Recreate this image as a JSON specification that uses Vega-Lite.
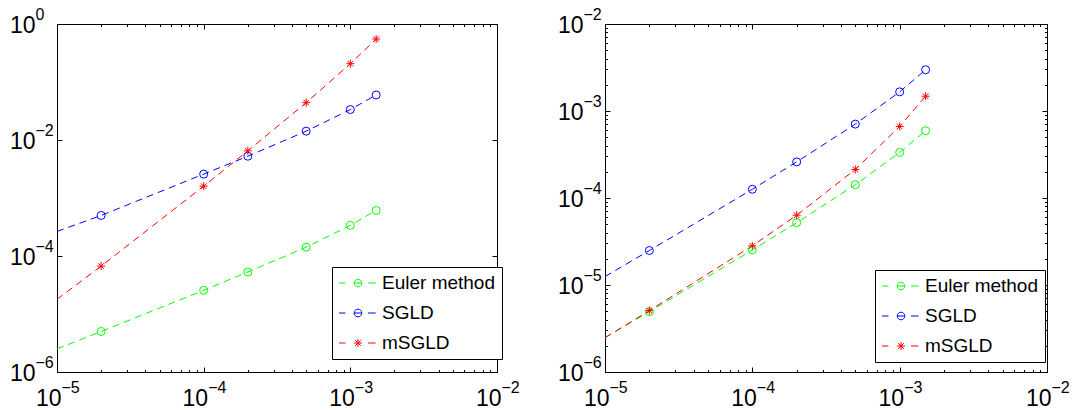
{
  "$schema": "https://vega.github.io/schema/vega-lite/v6.json",
  "background": "white",
  "padding": {"left": 8, "top": 5, "right": 5, "bottom": 0},
  "bounds": "flush",
  "spacing": 108,
  "resolve": {"scale": {"color": "independent"}, "legend": {"color": "independent"}},
  "datasets": {
    "left": [
      {"method": "Euler method", "h": 1e-5, "err": 2.5e-6},
      {"method": "Euler method", "h": 2e-5, "err": 5.0e-6},
      {"method": "Euler method", "h": 1e-4, "err": 2.56e-5},
      {"method": "Euler method", "h": 2e-4, "err": 5.3e-5},
      {"method": "Euler method", "h": 5e-4, "err": 1.42e-4},
      {"method": "Euler method", "h": 1e-3, "err": 3.37e-4},
      {"method": "Euler method", "h": 1.5e-3, "err": 6.1e-4},
      {"method": "SGLD", "h": 1e-5, "err": 2.65e-4},
      {"method": "SGLD", "h": 2e-5, "err": 5.0e-4},
      {"method": "SGLD", "h": 1e-4, "err": 2.58e-3},
      {"method": "SGLD", "h": 2e-4, "err": 5.25e-3},
      {"method": "SGLD", "h": 5e-4, "err": 1.42e-2},
      {"method": "SGLD", "h": 1e-3, "err": 3.35e-2},
      {"method": "SGLD", "h": 1.5e-3, "err": 5.98e-2},
      {"method": "mSGLD", "h": 1e-5, "err": 1.79e-5},
      {"method": "mSGLD", "h": 2e-5, "err": 6.7e-5},
      {"method": "mSGLD", "h": 1e-4, "err": 1.6e-3},
      {"method": "mSGLD", "h": 2e-4, "err": 6.5e-3},
      {"method": "mSGLD", "h": 5e-4, "err": 4.4e-2},
      {"method": "mSGLD", "h": 1e-3, "err": 0.207},
      {"method": "mSGLD", "h": 1.5e-3, "err": 0.55}
    ],
    "right": [
      {"method": "Euler method", "h": 1e-5, "err": 2.48e-6},
      {"method": "Euler method", "h": 2e-5, "err": 4.94e-6},
      {"method": "Euler method", "h": 1e-4, "err": 2.53e-5},
      {"method": "Euler method", "h": 2e-4, "err": 5.2e-5},
      {"method": "Euler method", "h": 5e-4, "err": 1.42e-4},
      {"method": "Euler method", "h": 1e-3, "err": 3.34e-4},
      {"method": "Euler method", "h": 1.5e-3, "err": 5.93e-4},
      {"method": "SGLD", "h": 1e-5, "err": 1.25e-5},
      {"method": "SGLD", "h": 2e-5, "err": 2.49e-5},
      {"method": "SGLD", "h": 1e-4, "err": 1.26e-4},
      {"method": "SGLD", "h": 2e-4, "err": 2.6e-4},
      {"method": "SGLD", "h": 5e-4, "err": 7.07e-4},
      {"method": "SGLD", "h": 1e-3, "err": 1.66e-3},
      {"method": "SGLD", "h": 1.5e-3, "err": 2.98e-3},
      {"method": "mSGLD", "h": 1e-5, "err": 2.48e-6},
      {"method": "mSGLD", "h": 2e-5, "err": 5.08e-6},
      {"method": "mSGLD", "h": 1e-4, "err": 2.82e-5},
      {"method": "mSGLD", "h": 2e-4, "err": 6.34e-5},
      {"method": "mSGLD", "h": 5e-4, "err": 2.13e-4},
      {"method": "mSGLD", "h": 1e-3, "err": 6.65e-4},
      {"method": "mSGLD", "h": 1.5e-3, "err": 1.48e-3}
    ]
  },
  "hconcat": [
    {
      "width": 440,
      "height": 348,
      "data": {"name": "left"},
      "resolve": {"axis": {"x": "independent", "y": "independent"}},
      "layer": [
        {
          "mark": {"type": "line", "strokeWidth": 1, "strokeDash": [7, 5]},
          "encoding": {
            "x": {"field": "h", "type": "quantitative",
              "scale": {"type": "log", "domain": [1e-5, 1e-2], "nice": false},
              "axis": {"orient": "bottom", "title": null, "values": [1e-5,2e-5,3e-5,4e-5,5e-5,6e-5,7e-5,8e-5,9e-5,1e-4,2e-4,3e-4,4e-4,5e-4,6e-4,7e-4,8e-4,9e-4,1e-3,2e-3,3e-3,4e-3,5e-3,6e-3,7e-3,8e-3,9e-3,1e-2],
                "labelExpr": "abs(log(datum.value)/LN10 - round(log(datum.value)/LN10)) < 0.001 ? '10' : ''",
                "tickSize": {"condition": {"test": "abs(log(datum.value)/LN10 - round(log(datum.value)/LN10)) < 0.001", "value": -5}, "value": -2.5},
                "labelAlign": "right", "labelBaseline": "alphabetic", "labelOffset": 4, "labelPadding": 38, "labelFontSize": 23}},
            "y": {"field": "err", "type": "quantitative",
              "scale": {"type": "log", "domain": [1e-6, 1], "nice": false},
              "axis": {"orient": "left", "title": null, "values": [1e-6, 1e-4, 1e-2, 1],
                "labelExpr": "'10'", "tickSize": -5,
                "labelAlign": "right", "labelBaseline": "alphabetic", "labelOffset": 8, "labelPadding": 27, "labelFontSize": 23}},
            "color": {"field": "method", "type": "nominal",
              "scale": {"domain": ["Euler method", "SGLD", "mSGLD"], "range": ["#00ff00", "#0000ff", "#ff0000"]},
              "legend": {"orient": "none", "legendX": 275, "legendY": 243,
                "encode": {"symbols": {"update": {
                  "shape": {"signal": "datum.value === 'mSGLD' ? 'M-2,0L-1.32,0M1.05,0L1.85,0M-0.42,0L0.42,0M0,-0.42L0,0.42M-0.3,-0.3L0.3,0.3M-0.3,0.3L0.3,-0.3' : 'M-2,0L-1.32,0M1.05,0L1.85,0M0.4,0A0.4,0.4 0 1,1 -0.4,0A0.4,0.4 0 1,1 0.4,0M-0.4,0L0.4,0'"},
                  "strokeDash": {"value": []},
                  "fill": {"value": "transparent"}}}}}}
          }
        },
        {
          "transform": [{"filter": "datum.h > 1.5e-5 && datum.method !== 'mSGLD'"}],
          "mark": {"type": "point", "shape": "circle", "size": 64, "filled": false, "strokeWidth": 1, "opacity": 1},
          "encoding": {
            "x": {"field": "h", "type": "quantitative",
              "axis": {"orient": "bottom", "title": null, "values": [1e-5, 1e-4, 1e-3, 1e-2], "ticks": false,
                "labelExpr": "format(round(log(datum.value)/LN10), 'd')",
                "labelAlign": "left", "labelBaseline": "alphabetic", "labelOffset": 4, "labelPadding": 20, "labelFontSize": 16}},
            "y": {"field": "err", "type": "quantitative",
              "axis": {"orient": "left", "title": null, "values": [1e-6, 1e-4, 1e-2, 1], "ticks": false,
                "labelExpr": "format(round(log(datum.value)/LN10), 'd')",
                "labelAlign": "left", "labelBaseline": "alphabetic", "labelOffset": -5, "labelPadding": 22, "labelFontSize": 16}},
            "color": {"field": "method", "type": "nominal", "legend": null}
          }
        },
        {
          "transform": [{"filter": "datum.h > 1.5e-5 && datum.method === 'mSGLD'"}],
          "mark": {"type": "point", "shape": "M-1,0L1,0M0,-1L0,1M-0.7,-0.7L0.7,0.7M-0.7,0.7L0.7,-0.7", "size": 64, "filled": false, "strokeWidth": 1, "opacity": 1},
          "encoding": {
            "x": {"field": "h", "type": "quantitative",
              "axis": {"orient": "top", "title": null, "labels": false, "values": [1e-5,2e-5,3e-5,4e-5,5e-5,6e-5,7e-5,8e-5,9e-5,1e-4,2e-4,3e-4,4e-4,5e-4,6e-4,7e-4,8e-4,9e-4,1e-3,2e-3,3e-3,4e-3,5e-3,6e-3,7e-3,8e-3,9e-3,1e-2],
                "tickSize": {"condition": {"test": "abs(log(datum.value)/LN10 - round(log(datum.value)/LN10)) < 0.001", "value": -5}, "value": -2.5}}},
            "y": {"field": "err", "type": "quantitative",
              "axis": {"orient": "right", "title": null, "labels": false, "values": [1e-6, 1e-4, 1e-2, 1], "tickSize": -5}},
            "color": {"field": "method", "type": "nominal", "legend": null}
          }
        }
      ]
    },
    {
      "width": 442,
      "height": 348,
      "data": {"name": "right"},
      "resolve": {"axis": {"x": "independent", "y": "independent"}},
      "layer": [
        {
          "mark": {"type": "line", "strokeWidth": 1, "strokeDash": [7, 5]},
          "encoding": {
            "x": {"field": "h", "type": "quantitative",
              "scale": {"type": "log", "domain": [1e-5, 1e-2], "nice": false},
              "axis": {"orient": "bottom", "title": null, "values": [1e-5,2e-5,3e-5,4e-5,5e-5,6e-5,7e-5,8e-5,9e-5,1e-4,2e-4,3e-4,4e-4,5e-4,6e-4,7e-4,8e-4,9e-4,1e-3,2e-3,3e-3,4e-3,5e-3,6e-3,7e-3,8e-3,9e-3,1e-2],
                "labelExpr": "abs(log(datum.value)/LN10 - round(log(datum.value)/LN10)) < 0.001 ? '10' : ''",
                "tickSize": {"condition": {"test": "abs(log(datum.value)/LN10 - round(log(datum.value)/LN10)) < 0.001", "value": -5}, "value": -2.5},
                "labelAlign": "right", "labelBaseline": "alphabetic", "labelOffset": 4, "labelPadding": 38, "labelFontSize": 23}},
            "y": {"field": "err", "type": "quantitative",
              "scale": {"type": "log", "domain": [1e-6, 1e-2], "nice": false},
              "axis": {"orient": "left", "title": null, "values": [1e-6,2e-6,3e-6,4e-6,5e-6,6e-6,7e-6,8e-6,9e-6,1e-5,2e-5,3e-5,4e-5,5e-5,6e-5,7e-5,8e-5,9e-5,1e-4,2e-4,3e-4,4e-4,5e-4,6e-4,7e-4,8e-4,9e-4,1e-3,2e-3,3e-3,4e-3,5e-3,6e-3,7e-3,8e-3,9e-3,1e-2],
                "labelExpr": "abs(log(datum.value)/LN10 - round(log(datum.value)/LN10)) < 0.001 ? '10' : ''",
                "tickSize": {"condition": {"test": "abs(log(datum.value)/LN10 - round(log(datum.value)/LN10)) < 0.001", "value": -5}, "value": -2.5},
                "labelAlign": "right", "labelBaseline": "alphabetic", "labelOffset": 8, "labelPadding": 27, "labelFontSize": 23}},
            "color": {"field": "method", "type": "nominal",
              "scale": {"domain": ["Euler method", "SGLD", "mSGLD"], "range": ["#00ff00", "#0000ff", "#ff0000"]},
              "legend": {"orient": "none", "legendX": 270, "legendY": 246,
                "encode": {"symbols": {"update": {
                  "shape": {"signal": "datum.value === 'mSGLD' ? 'M-2,0L-1.32,0M1.05,0L1.85,0M-0.42,0L0.42,0M0,-0.42L0,0.42M-0.3,-0.3L0.3,0.3M-0.3,0.3L0.3,-0.3' : 'M-2,0L-1.32,0M1.05,0L1.85,0M0.4,0A0.4,0.4 0 1,1 -0.4,0A0.4,0.4 0 1,1 0.4,0M-0.4,0L0.4,0'"},
                  "strokeDash": {"value": []},
                  "fill": {"value": "transparent"}}}}}}
          }
        },
        {
          "transform": [{"filter": "datum.h > 1.5e-5 && datum.method !== 'mSGLD'"}],
          "mark": {"type": "point", "shape": "circle", "size": 64, "filled": false, "strokeWidth": 1, "opacity": 1},
          "encoding": {
            "x": {"field": "h", "type": "quantitative",
              "axis": {"orient": "bottom", "title": null, "values": [1e-5, 1e-4, 1e-3, 1e-2], "ticks": false,
                "labelExpr": "format(round(log(datum.value)/LN10), 'd')",
                "labelAlign": "left", "labelBaseline": "alphabetic", "labelOffset": 4, "labelPadding": 20, "labelFontSize": 16}},
            "y": {"field": "err", "type": "quantitative",
              "axis": {"orient": "left", "title": null, "values": [1e-6, 1e-5, 1e-4, 1e-3, 1e-2], "ticks": false,
                "labelExpr": "format(round(log(datum.value)/LN10), 'd')",
                "labelAlign": "left", "labelBaseline": "alphabetic", "labelOffset": -5, "labelPadding": 22, "labelFontSize": 16}},
            "color": {"field": "method", "type": "nominal", "legend": null}
          }
        },
        {
          "transform": [{"filter": "datum.h > 1.5e-5 && datum.method === 'mSGLD'"}],
          "mark": {"type": "point", "shape": "M-1,0L1,0M0,-1L0,1M-0.7,-0.7L0.7,0.7M-0.7,0.7L0.7,-0.7", "size": 64, "filled": false, "strokeWidth": 1, "opacity": 1},
          "encoding": {
            "x": {"field": "h", "type": "quantitative",
              "axis": {"orient": "top", "title": null, "labels": false, "values": [1e-5,2e-5,3e-5,4e-5,5e-5,6e-5,7e-5,8e-5,9e-5,1e-4,2e-4,3e-4,4e-4,5e-4,6e-4,7e-4,8e-4,9e-4,1e-3,2e-3,3e-3,4e-3,5e-3,6e-3,7e-3,8e-3,9e-3,1e-2],
                "tickSize": {"condition": {"test": "abs(log(datum.value)/LN10 - round(log(datum.value)/LN10)) < 0.001", "value": -5}, "value": -2.5}}},
            "y": {"field": "err", "type": "quantitative",
              "axis": {"orient": "right", "title": null, "labels": false, "values": [1e-6,2e-6,3e-6,4e-6,5e-6,6e-6,7e-6,8e-6,9e-6,1e-5,2e-5,3e-5,4e-5,5e-5,6e-5,7e-5,8e-5,9e-5,1e-4,2e-4,3e-4,4e-4,5e-4,6e-4,7e-4,8e-4,9e-4,1e-3,2e-3,3e-3,4e-3,5e-3,6e-3,7e-3,8e-3,9e-3,1e-2],
                "tickSize": {"condition": {"test": "abs(log(datum.value)/LN10 - round(log(datum.value)/LN10)) < 0.001", "value": -5}, "value": -2.5}}},
            "color": {"field": "method", "type": "nominal", "legend": null}
          }
        }
      ]
    }
  ],
  "config": {
    "font": "Liberation Sans",
    "view": {"stroke": "black", "strokeWidth": 1},
    "axis": {"grid": false, "domain": false, "tickColor": "black", "tickWidth": 1, "labelColor": "black", "labelFont": "Liberation Sans", "labelOverlap": false, "labelFlush": false, "labelBound": false},
    "legend": {"strokeColor": "black", "strokeWidth": 1, "fillColor": "white", "padding": 6, "labelFont": "Liberation Sans", "labelFontSize": 19, "labelColor": "black", "symbolSize": 361, "symbolStrokeWidth": 1, "symbolOffset": 10, "rowPadding": 10, "labelOffset": 14, "title": null, "cornerRadius": 0}
  }
}
